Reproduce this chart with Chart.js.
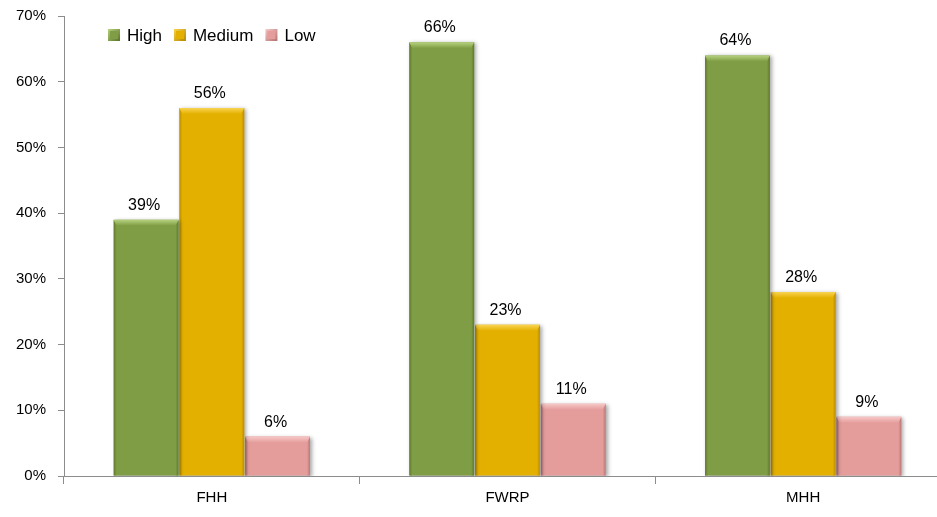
<!DOCTYPE html>
<html>
<head>
<meta charset="utf-8">
<script src="https://cdn.jsdelivr.net/npm/chart.js@4.4.1/dist/chart.umd.min.js"></script>
<style>
  html, body { margin: 0; padding: 0; background: #ffffff; overflow: hidden; }
  #wrap { position: relative; width: 951px; height: 517px; }
</style>
</head>
<body>
<div id="wrap"><canvas id="chart"></canvas></div>
<script>
// Categories and series (percent)
const categories = ['FHH', 'FWRP', 'MHH'];
const seriesNames = ['High', 'Medium', 'Low'];
const highValues = [39, 66, 64];
const mediumValues = [56, 23, 28];
const lowValues = [6, 11, 9];
const yTickMax = 70;
const yTickStep = 10;

const FONT = '"Liberation Sans", Arial, sans-serif';

const fills = ['#7f9d44', '#e4b000', '#e59d9c'];
const tops = ['#b6d27f', '#f9d452', '#f6c8c7'];
const edges = ['#5f7a2e', '#b98e00', '#b97877'];

// Bevelled look: soft shadow, lighter top lip, darker side edges
const bevel = {
  id: 'bevel',
  beforeDatasetDraw(chart) {
    const ctx = chart.ctx;
    ctx.save();
    ctx.shadowColor = 'rgba(0,0,0,0.35)';
    ctx.shadowBlur = 4;
    ctx.shadowOffsetX = 2;
    ctx.shadowOffsetY = 1;
  },
  afterDatasetDraw(chart, args) {
    const ctx = chart.ctx;
    ctx.restore();
    const i = args.index;
    const meta = chart.getDatasetMeta(i);
    meta.data.forEach(bar => {
      const w = bar.width;
      const l = bar.x - w / 2, r = bar.x + w / 2;
      const t = bar.y, b = bar.base;
      const lip = 6, side = 3;
      ctx.save();
      // right edge shade
      let g = ctx.createLinearGradient(r - side, 0, r, 0);
      g.addColorStop(0, fills[i]);
      g.addColorStop(1, edges[i]);
      ctx.fillStyle = g;
      ctx.beginPath();
      ctx.moveTo(r - side, t + lip); ctx.lineTo(r, t); ctx.lineTo(r, b); ctx.lineTo(r - side, b);
      ctx.closePath(); ctx.fill();
      // left edge shade
      g = ctx.createLinearGradient(l, 0, l + side, 0);
      g.addColorStop(0, edges[i]);
      g.addColorStop(1, fills[i]);
      ctx.fillStyle = g;
      ctx.beginPath();
      ctx.moveTo(l, t); ctx.lineTo(l + side, t + lip); ctx.lineTo(l + side, b); ctx.lineTo(l, b);
      ctx.closePath(); ctx.fill();
      // top lip
      g = ctx.createLinearGradient(0, t, 0, t + lip);
      g.addColorStop(0, tops[i]);
      g.addColorStop(1, fills[i]);
      ctx.fillStyle = g;
      ctx.beginPath();
      ctx.moveTo(l, t); ctx.lineTo(r, t); ctx.lineTo(r - side, t + lip); ctx.lineTo(l + side, t + lip);
      ctx.closePath(); ctx.fill();
      ctx.restore();
    });
  }
};

// Percent labels above each bar
const valueLabels = {
  id: 'valueLabels',
  afterDatasetsDraw(chart) {
    const ctx = chart.ctx;
    ctx.save();
    ctx.font = '16px ' + FONT;
    ctx.fillStyle = '#000000';
    ctx.textAlign = 'center';
    ctx.textBaseline = 'alphabetic';
    chart.data.datasets.forEach((ds, i) => {
      chart.getDatasetMeta(i).data.forEach((bar, j) => {
        ctx.fillText(ds.data[j] + '%', bar.x - 2, bar.y - 10);
      });
    });
    ctx.restore();
  }
};

// Legend inside the plot, top-left
const innerLegend = {
  id: 'innerLegend',
  afterDraw(chart) {
    const ctx = chart.ctx;
    const area = chart.chartArea;
    ctx.save();
    ctx.font = '17px ' + FONT;
    ctx.textBaseline = 'middle';
    ctx.textAlign = 'left';
    let x = area.left + 44;
    const y = area.top + 19;
    chart.data.datasets.forEach((ds, i) => {
      const g = ctx.createLinearGradient(x, y - 6, x + 11, y + 5);
      g.addColorStop(0, tops[i]);
      g.addColorStop(1, edges[i]);
      ctx.fillStyle = g;
      ctx.fillRect(x, y - 6, 12, 12);
      ctx.fillStyle = fills[i];
      ctx.fillRect(x + 2, y - 4, 8, 8);
      ctx.fillStyle = '#000000';
      ctx.fillText(ds.label, x + 19, y + 1);
      x += 19 + ctx.measureText(ds.label).width + 12;
    });
    ctx.restore();
  }
};

const axisGrey = '#8c8c8c';

new Chart(document.getElementById('chart'), {
  type: 'bar',
  data: {
    labels: categories,
    datasets: [
      { label: seriesNames[0], data: highValues, backgroundColor: fills[0] },
      { label: seriesNames[1], data: mediumValues, backgroundColor: fills[1] },
      { label: seriesNames[2], data: lowValues, backgroundColor: fills[2] }
    ]
  },
  options: {
    responsive: true,
    maintainAspectRatio: false,
    animation: false,
    layout: { padding: { top: 16, left: 0, right: 0, bottom: 0 } },
    datasets: { bar: { categoryPercentage: 0.667, barPercentage: 0.985 } },
    plugins: {
      legend: { display: false },
      tooltip: { enabled: false }
    },
    scales: {
      x: {
        grid: { display: true, offset: true, drawOnChartArea: false, drawTicks: true, tickLength: 8, color: axisGrey },
        border: { display: true, color: axisGrey, width: 1 },
        ticks: { font: { family: FONT, size: 15 }, color: '#000000', padding: 5 },
        afterFit(scale) { scale.height = 41; }
      },
      y: {
        min: 0,
        max: yTickMax,
        grid: { display: true, drawOnChartArea: false, drawTicks: true, tickLength: 6, color: axisGrey },
        border: { display: true, color: axisGrey, width: 1 },
        ticks: {
          stepSize: yTickStep,
          font: { family: FONT, size: 15 },
          color: '#000000',
          padding: 12,
          callback: v => v + '%'
        },
        afterFit(scale) {
          scale.width = 64;
          scale.paddingTop = 0;
          scale.paddingBottom = 0;
        }
      }
    }
  },
  plugins: [bevel, valueLabels, innerLegend]
});
</script>
</body>
</html>
